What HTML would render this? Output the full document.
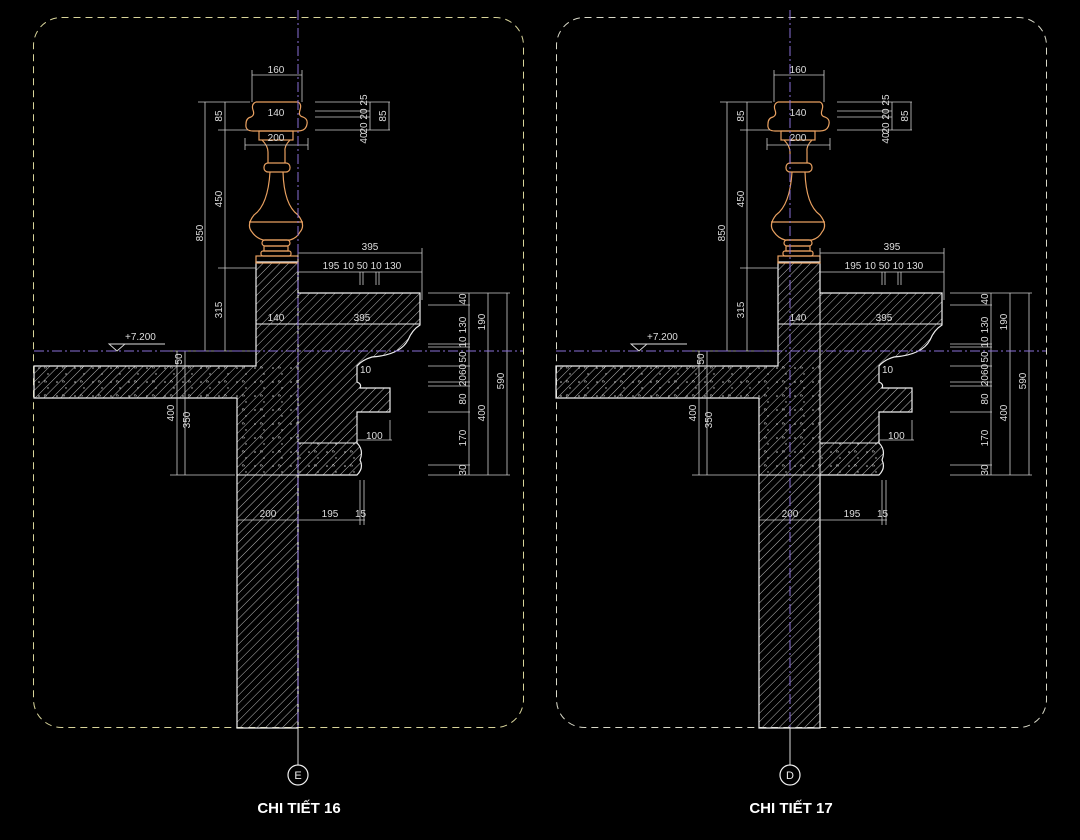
<!DOCTYPE html>
<html><head><meta charset="utf-8"><style>
html,body{margin:0;padding:0;background:#000;}
svg{display:block;}
text{font-family:"Liberation Sans",sans-serif;fill:#ddd;}
</style></head><body>
<svg width="1080" height="840" viewBox="0 0 1080 840" xmlns="http://www.w3.org/2000/svg" font-size="10">
<defs>
<pattern id="h" patternUnits="userSpaceOnUse" width="6" height="6" patternTransform="rotate(45)">
<line x1="0" y1="0" x2="0" y2="6" stroke="#bbb" stroke-width="1"/>
</pattern>
<pattern id="c" patternUnits="userSpaceOnUse" width="18" height="14">
<circle cx="3" cy="4" r="0.8" fill="#ccc"/><circle cx="12" cy="10" r="0.7" fill="#ccc"/><path d="M9 2 l2 2 h-3z" fill="none" stroke="#bbb" stroke-width="0.5"/>
</pattern>
<g id="det">
<g stroke="#eee" stroke-width="1.2">
<path d="M34 366 H256 V262 H298 V293 H420 V325 Q412 330 408 340 Q400 355 372 357 Q362 360 357 366 V382 Q362 384 360 388 H390 V412 H357 V443 Q364 450 360 460 Q364 468 357 475 H298 V728 H237 V398 H34 Z" fill="url(#h)"/>
<path d="M34 366 H298 V475 H237 V398 H34 Z" fill="url(#c)" stroke="none"/>
<path d="M298 443 H357 V475 H298Z" fill="url(#c)" stroke="none"/>
<line x1="256" y1="324" x2="420" y2="324" stroke-width="1"/>
<line x1="298" y1="293" x2="298" y2="475" stroke-width="1"/>
<line x1="298" y1="443" x2="357" y2="443" stroke-width="1"/>
<line x1="237" y1="475" x2="298" y2="475" stroke-width="1"/>
</g>
<g fill="none" stroke="#e8a060" stroke-width="1.2">
<path d="M256 102 H298 Q302 104 300 110 Q298 116 303 117 Q308 119 307 124 Q306 131 298 131 H253 Q245 131 246 124 Q246 118 251 117 Q255 115 253 110 Q251 104 256 102Z"/>
<rect x="259" y="131" width="34" height="9"/>
<path d="M262 140 Q268 146 268 152 V163 M290 140 Q284 146 285 152 V163"/>
<rect x="264" y="163" width="26" height="9" rx="4"/>
<path d="M270 172 Q268 205 254 215 Q246 225 252 232 Q256 238 263 240 H290 Q297 238 300 232 Q306 225 298 215 Q284 205 283 172"/>
<line x1="249" y1="222" x2="303" y2="222"/>
<rect x="262" y="240" width="28" height="6" rx="3"/>
<rect x="264" y="246" width="24" height="5"/>
<rect x="261" y="251" width="30" height="5" rx="2"/>
<rect x="256" y="256" width="42" height="7"/>
</g>
<g stroke="#ccc" stroke-width="0.8" fill="none">
<path d="M252 75 H302 M252 70 V102 M302 70 V102"/>
<path d="M245 145 H308 M245 138 V150 M308 138 V150"/>
<path d="M205 102 V351 M198 102 H250 M225 102 V351 M218 130 H248 M218 268 H256 M198 351 H256"/>
<path d="M315 102 H390 M315 111 H370 M315 117 H370 M315 130 H390 M370 102 V130 M389 102 V130"/>
<path d="M298 253 H422 M298 272 H422 M422 248 V300 M298 248 V262 M360 272 V285 M363 272 V285 M376 272 V285 M379 272 V285"/>
<path d="M428 293 H510 M428 305 H470 M428 344 H470 M428 347 H470 M428 366 H470 M428 382 H470 M428 386 H470 M428 412 H470 M428 465 H470 M428 475 H510 M469 293 V475 M488 293 V475 M507 293 V475"/>
<path d="M170 366 H200 M170 475 H235 M177 351 V475 M185 351 V475 M170 351 H200"/>
<path d="M237 520 H365 M360 480 V525 M364 480 V525 M357 420 V440 M390 420 V440 M357 440 H392"/>
</g>
<g fill="#ddd">
<text x="276" y="73" text-anchor="middle">160</text>
<text x="276" y="116" text-anchor="middle">140</text>
<text x="276" y="141" text-anchor="middle">200</text>
<text x="370" y="250" text-anchor="middle">395</text>
<text x="331" y="269" text-anchor="middle">195</text>
<text x="372" y="269" text-anchor="middle">10 50 10 130</text>
<text x="276" y="321" text-anchor="middle">140</text>
<text x="362" y="321" text-anchor="middle">395</text>
<text x="360" y="373">10</text>
<text x="366" y="439">100</text>
<text x="268" y="517" text-anchor="middle">200</text>
<text x="330" y="517" text-anchor="middle">195</text>
<text x="355" y="517">15</text>
<text x="125" y="340">+7.200</text>
</g>
<path d="M109 344 H125 L117 351 Z M125 344 H165" fill="none" stroke="#ddd" stroke-width="0.9"/>
<g fill="#ddd">
<text transform="translate(203,233) rotate(-90)" text-anchor="middle">850</text>
<text transform="translate(222,116) rotate(-90)" text-anchor="middle">85</text>
<text transform="translate(222,199) rotate(-90)" text-anchor="middle">450</text>
<text transform="translate(222,310) rotate(-90)" text-anchor="middle">315</text>
<text transform="translate(367,100) rotate(-90)" text-anchor="middle">25</text>
<text transform="translate(367,121) rotate(-90)" text-anchor="middle">20 20</text>
<text transform="translate(367,138) rotate(-90)" text-anchor="middle">40</text>
<text transform="translate(386,116) rotate(-90)" text-anchor="middle">85</text>
<text transform="translate(466,299) rotate(-90)" text-anchor="middle">40</text>
<text transform="translate(466,325) rotate(-90)" text-anchor="middle">130</text>
<text transform="translate(466,342) rotate(-90)" text-anchor="middle">10</text>
<text transform="translate(466,357) rotate(-90)" text-anchor="middle">50</text>
<text transform="translate(466,375) rotate(-90)" text-anchor="middle">2060</text>
<text transform="translate(466,399) rotate(-90)" text-anchor="middle">80</text>
<text transform="translate(466,438) rotate(-90)" text-anchor="middle">170</text>
<text transform="translate(466,470) rotate(-90)" text-anchor="middle">30</text>
<text transform="translate(485,322) rotate(-90)" text-anchor="middle">190</text>
<text transform="translate(485,413) rotate(-90)" text-anchor="middle">400</text>
<text transform="translate(504,381) rotate(-90)" text-anchor="middle">590</text>
<text transform="translate(174,413) rotate(-90)" text-anchor="middle">400</text>
<text transform="translate(182,359) rotate(-90)" text-anchor="middle">50</text>
<text transform="translate(190,420) rotate(-90)" text-anchor="middle">350</text>
</g>
</g>
</defs>

<rect x="33.5" y="17.5" width="490" height="710" rx="28" fill="none" stroke="#d8d49a" stroke-width="1" stroke-dasharray="7,5"/>
<rect x="556.5" y="17.5" width="490" height="710" rx="28" fill="none" stroke="#d8d8c8" stroke-width="1" stroke-dasharray="7,5"/>

<use href="#det"/>
<use href="#det" transform="translate(522,0)"/>

<g stroke="#8a70d8" stroke-width="1" stroke-dasharray="10,3,2,3">
<line x1="34" y1="351" x2="523" y2="351"/>
<line x1="556" y1="351" x2="1046" y2="351"/>
<line x1="298" y1="10" x2="298" y2="765"/>
<line x1="790" y1="10" x2="790" y2="765"/>
</g>
<line x1="298" y1="728" x2="298" y2="765" stroke="#ddd"/>
<line x1="790" y1="728" x2="790" y2="765" stroke="#ddd"/>
<circle cx="298" cy="775" r="10" fill="#000" stroke="#eee" stroke-width="1.2"/>
<circle cx="790" cy="775" r="10" fill="#000" stroke="#eee" stroke-width="1.2"/>
<text x="298" y="779" text-anchor="middle" style="font-size:11px;fill:#eee">E</text>
<text x="790" y="779" text-anchor="middle" style="font-size:11px;fill:#eee">D</text>
<text x="299" y="813" text-anchor="middle" style="font-size:15px;font-weight:bold;fill:#fff">CHI TIẾT 16</text>
<text x="791" y="813" text-anchor="middle" style="font-size:15px;font-weight:bold;fill:#fff">CHI TIẾT 17</text>
</svg>
</body></html>
